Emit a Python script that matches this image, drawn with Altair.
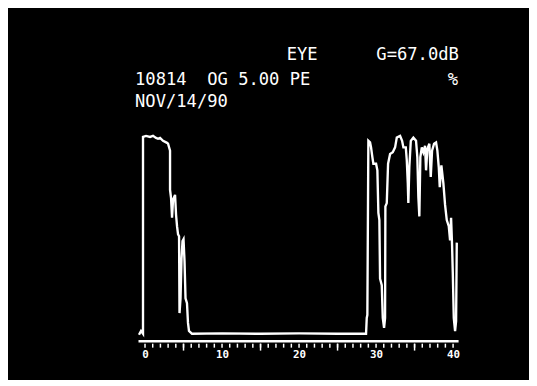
import altair as alt
import pandas as pd

# A-scan trace: depth (mm) and echo amplitude (% of full scale)
depth = [-0.78, -0.52, -0.26, -0.26, 0.13, 0.65, 1.04, 1.43, 1.69, 1.95, 2.34, 2.86, 2.99,
         3.25, 3.25, 3.38, 3.51, 3.64, 3.90, 4.03, 4.16, 4.29, 4.42, 4.48, 4.61, 4.74,
         4.87, 5.00, 5.13, 5.26, 5.45, 5.58, 5.71, 6.10, 10.0, 15.0, 20.0, 25.0, 28.70,
         28.79, 28.87, 29.00, 29.22, 29.35, 29.52, 29.65, 30.00, 30.17, 30.30, 30.43,
         30.52, 30.74, 30.87, 31.04, 31.17, 31.21, 31.39, 31.56, 31.82, 32.17, 32.47,
         32.69, 33.12, 33.38, 33.55, 33.86, 33.99, 34.12, 34.19, 34.32, 34.51, 34.84,
         35.19, 35.36, 35.49, 35.62, 35.75, 35.94, 36.14, 36.36, 36.49, 36.66, 36.92,
         37.10, 37.27, 37.53, 37.79, 37.96, 38.14, 38.27, 38.48, 38.74, 38.96, 39.18,
         39.44, 39.61, 39.74, 39.87, 39.96, 40.09, 40.26, 40.39, 40.48]
amplitude = [2.9, 4.8, 3.4, 99.5, 100, 99.5, 100, 99.0, 98.6, 99.0, 97.6, 96.6, 96.2,
             92.8, 73.6, 69.7, 60.1, 68.8, 71.2, 61.5, 55.8, 51.9, 51.0, 13.5, 20.7, 39.9,
             48.6, 49.5, 38.9, 20.7, 18.3, 8.7, 4.8, 3.4, 3.6, 3.4, 3.6, 3.4, 3.4,
             11.1, 12.6, 97.6, 96.8, 94.4, 89.6, 86.4, 86.4, 83.2, 62.4, 58.9,
             30.3, 27.1, 11.1, 6.3, 11.1, 65.5, 67.2, 86.4, 91.2, 92.0, 94.4,
             99.2, 100, 97.6, 94.4, 94.4, 88.0, 76.8, 67.2, 84.8, 97.6, 99.2,
             97.6, 89.6, 70.3, 60.7, 89.6, 94.4, 92.0, 95.2, 83.2, 93.6, 96.2,
             80.0, 92.8, 96.2, 96.8, 92.8, 84.8, 75.0, 85.6, 76.8, 66.3, 58.9,
             55.9, 49.0, 60.0, 46.3, 33.5, 11.1, 4.7, 9.5, 47.9]

tick_minor = list(range(0, 41))
tick_major = [5, 15, 25, 35]
label_values = [0, 10, 20, 30, 40]

header_lines = ["EYE", "G=67.0dB", "10814\u00a0\u00a0OG 5.00 PE", "%", "NOV/14/90"]

df = pd.DataFrame({"depth": depth, "amp": amplitude, "i": range(len(depth))})

W, H = 325, 208
FONT = "DejaVu Sans Mono"

xscale = alt.Scale(domain=[-0.91, 40.65], nice=False, zero=False)
yscale = alt.Scale(domain=[0, 100], nice=False)

trace = alt.Chart(df).mark_line(color="white", strokeWidth=2.4, strokeJoin="miter").encode(
    x=alt.X("depth:Q", scale=xscale,
            axis=alt.Axis(values=label_values, title=None, grid=False, ticks=False,
                          domainColor="white", domainWidth=2.5, labelColor="white",
                          labelFont=FONT, labelFontSize=11, labelFontWeight="bold",
                          labelPadding=8, labelFlush=False)),
    y=alt.Y("amp:Q", scale=yscale, axis=None),
    order="i:Q",
)

minor = alt.Chart(pd.DataFrame({"t": tick_minor})).mark_rule(color="white", strokeWidth=1.5).encode(
    x=alt.X("t:Q", scale=xscale), y=alt.value(H + 3), y2=alt.value(H + 7))
major = alt.Chart(pd.DataFrame({"t": tick_major})).mark_rule(color="white", strokeWidth=1.5).encode(
    x=alt.X("t:Q", scale=xscale), y=alt.value(H + 3), y2=alt.value(H + 10))

# header text: x, baseline y (pixels relative to the plot's top-left) and alignment
pos = {
    "EYE": (151, -77, "left"),
    "G=67.0dB": (242, -77, "left"),
    "10814\u00a0\u00a0OG 5.00 PE": (-3, -52, "left"),
    "%": (325, -52, "right"),
    "NOV/14/90": (-3, -29, "left"),
}
texts = []
for line in header_lines:
    px, py, al = pos[line]
    texts.append(
        alt.Chart(alt.Data(values=[{}])).mark_text(
            text=line, color="white", font=FONT, fontSize=17.4, align=al,
            baseline="alphabetic"
        ).encode(x=alt.value(px), y=alt.value(py))
    )

chart = alt.layer(trace, minor, major, *texts).properties(
    width=W, height=H,
    background="black",
    padding={"left": 132, "top": 127, "right": 72, "bottom": 37},
    autosize=alt.AutoSizeParams(type="none"),
).configure_view(stroke=None)

chart.save("out.html", embed_options={"renderer": "svg", "actions": False})
